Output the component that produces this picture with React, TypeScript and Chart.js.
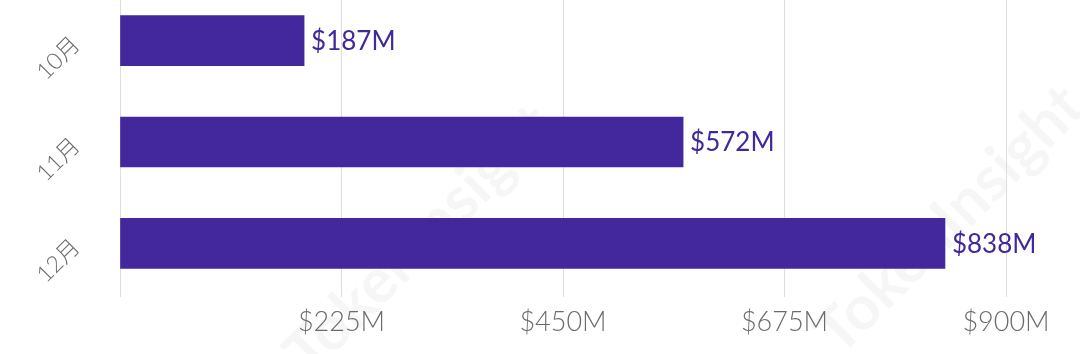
import React, { useEffect, useRef } from "react";
import { Chart, registerables } from "chart.js";

Chart.register(...registerables);

const categories = ["10月", "11月", "12月"];
const values = [187, 572, 838];
const valueLabels = ["$187M", "$572M", "$838M"];
const xTicks = [0, 225, 450, 675, 900];
const xTickLabels = ["", "$225M", "$450M", "$675M", "$900M"];

const BAR_COLOR = "#43279C";

const watermarkPlugin = {
  id: "watermark",
  beforeDraw(chart: any) {
    const ctx = chart.ctx;
    ctx.save();
    ctx.fillStyle = "rgba(0,0,0,0.035)";
    ctx.font = "bold 62px Lato, 'Noto Sans', sans-serif";
    ctx.textAlign = "center";
    ctx.textBaseline = "middle";
    const spots = [
      [420, 250],
      [950, 230],
    ];
    for (const [x, y] of spots) {
      ctx.save();
      ctx.translate(x, y);
      ctx.rotate(-Math.PI / 4);
      ctx.fillText("TokenInsight", 0, 0);
      ctx.restore();
    }
    ctx.restore();
  },
};

const valueLabelPlugin = {
  id: "valueLabels",
  afterDatasetsDraw(chart: any) {
    const ctx = chart.ctx;
    const meta = chart.getDatasetMeta(0);
    ctx.save();
    ctx.fillStyle = BAR_COLOR;
    ctx.font = "26px Lato, 'Noto Sans', sans-serif";
    ctx.textAlign = "left";
    ctx.textBaseline = "middle";
    meta.data.forEach((bar: any, i: number) => {
      ctx.fillText(valueLabels[i], bar.x + 7, bar.y + 1);
    });
    ctx.restore();
  },
};

export default function App() {
  const ref = useRef<HTMLCanvasElement>(null);
  useEffect(() => {
    if (!ref.current) return;
    const chart = new Chart(ref.current, {
      type: "bar",
      data: {
        labels: categories,
        datasets: [
          {
            data: values,
            backgroundColor: BAR_COLOR,
            barThickness: 50,
          },
        ],
      },
      options: {
        indexAxis: "y",
        animation: false,
        responsive: false,
        maintainAspectRatio: false,
        layout: { padding: { left: 0, right: 74, top: 0, bottom: 0 } },
        plugins: {
          legend: { display: false },
          tooltip: { enabled: false },
        },
        scales: {
          x: {
            min: 0,
            max: 900,
            afterBuildTicks: (scale: any) => {
              scale.ticks = xTicks.map((v) => ({ value: v }));
            },
            afterFit: (scale: any) => {
              scale.height = 60;
              scale.paddingLeft = 0;
              scale.paddingRight = 0;
            },
            grid: {
              color: "#dedede",
              lineWidth: 1,
              drawTicks: true,
              tickLength: 3,
            },
            border: { display: false },
            ticks: {
              padding: 9,
              color: "#6b6b6b",
              font: { family: "Lato, 'Noto Sans', sans-serif", size: 27, weight: "300" as any },
              callback: (_v: any, i: number) => xTickLabels[i],
              maxRotation: 0,
              minRotation: 0,
            },
          },
          y: {
            afterFit: (scale: any) => {
              scale.width = 120;
              scale.paddingTop = 0;
              scale.paddingBottom = 0;
            },
            grid: { display: false, drawTicks: false },
            border: { display: false },
            ticks: {
              padding: 44,
              color: "#6b6b6b",
              minRotation: 45,
              maxRotation: 45,
              font: { family: "Lato, 'Noto Sans CJK SC', sans-serif", size: 23, weight: "300" as any },
            },
          },
        },
      },
      plugins: [watermarkPlugin, valueLabelPlugin],
    });
    return () => chart.destroy();
  }, []);

  return (
    <div style={{ position: "absolute", left: 0, top: -10, width: 1080, height: 364, background: "#fff" }}>
      <canvas ref={ref} width={1080} height={364} style={{ width: 1080, height: 364 }} />
    </div>
  );
}
